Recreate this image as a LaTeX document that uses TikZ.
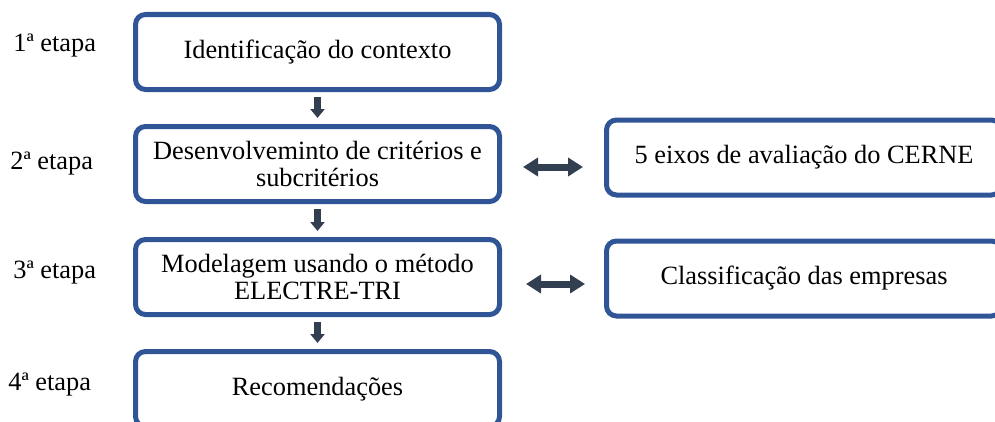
\documentclass[tikz,border=0pt]{standalone}
\usepackage{fontspec}
\setmainfont{Liberation Serif}
\usetikzlibrary{arrows.meta}
\usetikzlibrary{positioning}
\definecolor{boxblue}{RGB}{47,85,151}
\definecolor{arrowgray}{RGB}{50,63,80}
\tikzset{
	etapa/.style={draw=boxblue, line width=0.1cm, rounded corners=0.2cm, align=center, minimum height=1.5cm, font=\fontsize{15}{15.7}\selectfont},
	passo/.style={etapa, minimum width=7.28cm},
	lado/.style={etapa, minimum width=7.9cm},
	rotulo/.style={anchor=base west, inner sep=0pt, font=\fontsize{15}{15.7}\selectfont},
	seta/.style={arrowgray, line width=0.14cm, -{Triangle[width=0.28cm,length=0.18cm]}, shorten <=0.1cm, shorten >=0.12cm},
	setadupla/.style={arrowgray, line width=0.14cm, {Triangle[width=0.36cm,length=0.3cm]}-{Triangle[width=0.36cm,length=0.3cm]}}
}

\begin{document}
\begin{tikzpicture}
					\useasboundingbox (0,0) rectangle (19.9,8.42);
					\clip (0,0) rectangle (19.9,8.42);

					\node[rotulo] (r1) at (0.26,7.38) {1ª etapa};
					\node[rotulo] (r2) at (0.2,5.04) {2ª etapa};
					\node[rotulo] (r3) at (0.26,2.86) {3ª etapa};
					\node[rotulo] (r4) at (0.16,0.62) {4ª etapa};

					\node[passo] (contexto) at (6.35,7.38) {Identificação do contexto};
					\node[passo] (criterios) at (6.35,5.14) {Desenvolveminto de critérios e\\subcritérios};
					\node[passo] (modelagem) at (6.35,2.88) {Modelagem usando o método\\ELECTRE-TRI};
					\node[passo] (recom) at (6.35,0.64) {Recomendações};

					\node[lado] (eixos) at (16.08,5.27) {5 eixos de avaliação do CERNE};
					\node[lado] (classif) at (16.08,2.85) {Classificação das empresas};

					\draw[seta] (contexto) -- (criterios);
					\draw[seta] (criterios) -- (modelagem);
					\draw[seta] (modelagem) -- (recom);

					\draw[setadupla] ([xshift=0.42cm,yshift=-0.06cm]criterios.east) -- ([xshift=-0.42cm,yshift=-0.06cm]criterios.east -| eixos.west);
					\draw[setadupla] ([xshift=0.48cm,yshift=-0.14cm]modelagem.east) -- ([xshift=-0.38cm,yshift=-0.14cm]modelagem.east -| classif.west);

				\end{tikzpicture}
\end{document}
